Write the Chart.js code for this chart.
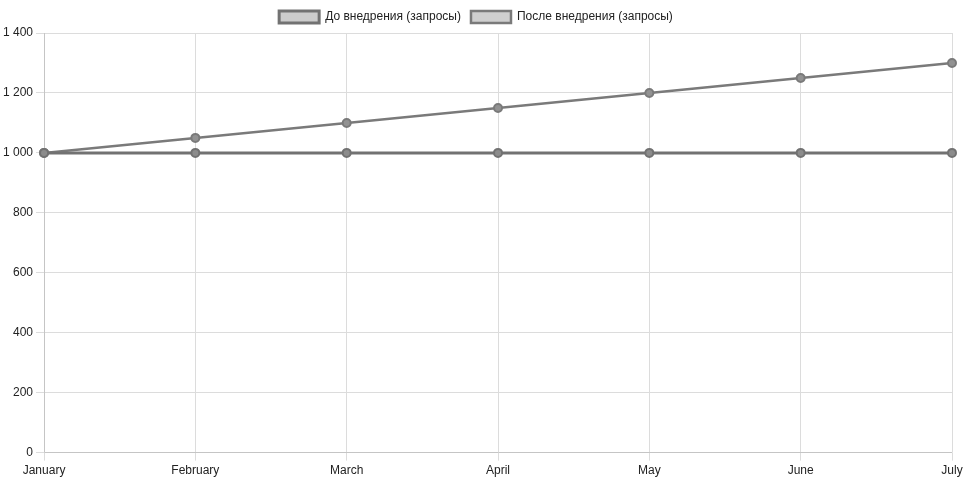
<!DOCTYPE html>
<html>
<head>
<meta charset="utf-8">
<script src="https://cdn.jsdelivr.net/npm/chart.js@4"></script>
<style>
  body { margin: 0; background: #fff; }
  #wrap { width: 968px; height: 483px; }
</style>
</head>
<body>
<div id="wrap"><canvas id="chart1"></canvas></div>
<script>
const months = ['January', 'February', 'March', 'April', 'May', 'June', 'July'];
const before = [1000, 1000, 1000, 1000, 1000, 1000, 1000];
const after = [1000, 1050, 1100, 1150, 1200, 1250, 1300];

Chart.defaults.font.family = "'Liberation Sans', Arial, sans-serif";
Chart.defaults.font.size = 12;

const ctx = document.getElementById('chart1').getContext('2d');
new Chart(ctx, {
    type: 'line',
    data: {
        labels: months,
        datasets: [
            {
                label: 'До внедрения (запросы)',
                data: before,
                borderColor: '#727272',
                backgroundColor: '#cccccc',
                borderWidth: 3,
                pointRadius: 4,
                pointBorderWidth: 2,
                pointBackgroundColor: '#8c8c8c',
                tension: 0
            },
            {
                label: 'После внедрения (запросы)',
                data: after,
                borderColor: '#7a7a7a',
                backgroundColor: '#cfcfcf',
                borderWidth: 2.5,
                pointRadius: 4,
                pointBorderWidth: 2,
                pointBackgroundColor: '#929292',
                tension: 0
            }
        ]
    },
    options: {
        responsive: true,
        maintainAspectRatio: false,
        animation: false,
        locale: 'ru-RU',
        layout: { padding: { right: 16, bottom: 2, top: 1 } },
        plugins: {
            legend: { labels: { color: '#222' } }
        },
        scales: {
            x: { ticks: { color: '#222' }, grid: { color: '#dcdcdc' } },
            y: { min: 0, max: 1400, ticks: { stepSize: 200, color: '#222' }, grid: { color: '#dcdcdc' } }
        }
    }
});
</script>
</body>
</html>
